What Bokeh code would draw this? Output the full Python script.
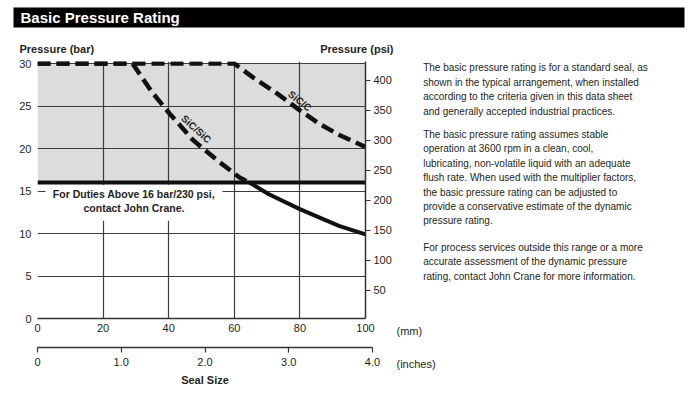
from bokeh.plotting import figure
from bokeh.models import FixedTicker, LinearAxis, Range1d, Label, BoxAnnotation
from bokeh.layouts import column, row
from bokeh.embed import file_html
from bokeh.resources import INLINE
from bokeh.core.properties import value
import numpy as np

# ---------------- data ----------------
mm_ticks = [0, 20, 40, 60, 80, 100]
inch_ticks = [0, 1, 2, 3, 4]
inch_labels = ["0", "1.0", "2.0", "3.0", "4.0"]
bar_ticks = [0, 5, 10, 15, 20, 25, 30]
psi_ticks = [50, 100, 150, 200, 250, 300, 350, 400]
grid_mm = [20, 40, 60, 80]
grid_bar = [5, 10, 15, 20, 25, 30]

rating_limit_bar = 16
rating_max_bar = 30

sic_c_mm = [0, 60, 66, 73, 80, 86, 92, 100]
sic_c_bar = [30, 30, 28.3, 26.5, 24.5, 22.9, 21.6, 20.2]

sic_sic_mm = [0, 29, 34.8, 40.3, 47.4, 55.5, 61.6, 64.6, 70.7, 79.8, 91.9, 100]
sic_sic_bar = [30, 30, 26.7, 24.1, 21.0, 18.4, 16.6, 16.0, 14.6, 12.9, 10.9, 9.9]

curve_names = ["SiC/C", "SiC/SiC"]
curve_label_mm = [80.0, 48.4]
curve_label_bar = [25.6, 22.3]
curve_label_angle = [-38, -42]

note_lines = ["For Duties Above 16 bar/230 psi,", "contact John Crane."]

para1 = ["The basic pressure rating is for a standard seal, as",
         "shown in the typical arrangement, when installed",
         "according to the criteria given in this data sheet",
         "and generally accepted industrial practices."]
para2 = ["The basic pressure rating assumes stable",
         "operation at 3600 rpm in a clean, cool,",
         "lubricating, non-volatile liquid with an adequate",
         "flush rate. When used with the multiplier factors,",
         "the basic pressure rating can be adjusted to",
         "provide a conservative estimate of the dynamic",
         "pressure rating."]
para3 = ["For process services outside this range or a more",
         "accurate assessment of the dynamic pressure",
         "rating, contact John Crane for more information."]

FONT = "Liberation Sans"
INK = "#231f20"
GRID = "#3c3c3c"
LINE = "#111111"


def blank(x0, x1, y0, y1):
    """A plain drawing area whose data coordinates are page pixels."""
    f = figure(width=x1 - x0, height=y1 - y0, x_range=Range1d(x0, x1), y_range=Range1d(y1, y0),
               output_backend="svg", toolbar_location=None, title=None,
               x_axis_location=None, y_axis_location=None,
               min_border_left=0, min_border_right=0, min_border_top=0, min_border_bottom=0)
    f.outline_line_color = None
    f.grid.visible = False
    if "frame_align" in f.properties():
        f.frame_align = False
    return f


# ---------------- header ----------------
hdr = blank(0, 697, 0, 57)
hdr.add_layout(BoxAnnotation(left=13, right=684, top=7, bottom=27, fill_color="black",
                             fill_alpha=1, line_color=None))
hdr.add_layout(Label(x=20, y=17, text="Basic Pressure Rating", text_font=FONT,
                     text_font_style="bold", text_font_size="15px", text_color="white",
                     text_baseline="middle"))
hdr.add_layout(Label(x=19, y=48, text="Pressure (bar)", text_font=FONT,
                     text_font_style="bold", text_font_size="11px", text_color=INK,
                     text_baseline="middle"))
hdr.add_layout(Label(x=393, y=48, text="Pressure (psi)", text_font=FONT,
                     text_font_style="bold", text_font_size="11px", text_color=INK,
                     text_baseline="middle", text_align="right"))

# ---------------- main chart ----------------
p = figure(width=394, height=283, x_range=Range1d(0, 100), y_range=Range1d(0, 30.25),
           output_backend="svg", toolbar_location=None, title=None,
           min_border_left=37, min_border_right=27, min_border_top=4, min_border_bottom=22)
p.outline_line_color = None
p.extra_y_ranges = {"psi": Range1d(3, 431)}

xa = p.xaxis[0]
xa.ticker = FixedTicker(ticks=mm_ticks)
ya = p.yaxis[0]
ya.ticker = FixedTicker(ticks=bar_ticks)
for ax in (xa, ya):
    ax.major_tick_in = 0
    ax.major_tick_out = 0
    ax.minor_tick_in = 0
    ax.minor_tick_out = 0
    ax.major_label_text_font = FONT
    ax.major_label_text_font_size = "11px"
    ax.major_label_text_color = INK
xa.axis_line_color = "#333333"
xa.axis_line_width = 1.5
xa.major_label_standoff = 5
ya.axis_line_color = None
ya.major_label_standoff = 6

psi_axis = LinearAxis(y_range_name="psi", ticker=FixedTicker(ticks=psi_ticks),
                      major_tick_out=5, major_tick_in=0, minor_tick_in=0, minor_tick_out=0,
                      axis_line_color="#333333", axis_line_width=1.5,
                      major_tick_line_color="#333333", major_tick_line_width=1.2,
                      major_label_standoff=3, major_label_text_font=FONT,
                      major_label_text_font_size="11px", major_label_text_color=INK)
p.add_layout(psi_axis, "right")

p.xgrid.ticker = FixedTicker(ticks=grid_mm)
p.ygrid.ticker = FixedTicker(ticks=grid_bar)
p.grid.grid_line_color = GRID
p.grid.grid_line_width = 1.2

# shaded region above the basic rating limit
p.hstrip(y0=[rating_limit_bar], y1=[rating_max_bar], fill_color="#dcdcdc",
         line_color=None, level="image")

# white box behind the note (covers grid lines only)
p.add_layout(BoxAnnotation(left=2.4, right=56.4, top=15.75, bottom=11.5,
                           fill_color="white", fill_alpha=1, line_color=None,
                           level="underlay"))

# limit line
p.hspan(y=[rating_limit_bar], line_width=4, line_color=LINE)

# curves
ss_x = np.array(sic_sic_mm)
ss_y = np.array(sic_sic_bar)
above = ss_y >= rating_limit_bar
below = ss_y <= rating_limit_bar
p.line(sic_c_mm, sic_c_bar, line_width=4.5, line_color=LINE, line_dash="13 6")
p.line(ss_x[above], ss_y[above], line_width=4.5, line_color=LINE, line_dash="13 6")
p.line(ss_x[below], ss_y[below], line_width=4, line_color=LINE)

p.text(x=curve_label_mm, y=curve_label_bar, text=curve_names, angle=curve_label_angle,
       angle_units="deg", text_font=value(FONT), text_font_style="bold",
       text_font_size="10px", text_align="center", text_baseline="middle",
       text_color=INK)

p.text(x=[29.4, 29.4], y=[14.68, 12.98], text=note_lines, text_font=value(FONT),
       text_font_style="bold", text_font_size="10.5px", text_align="center",
       text_baseline="middle", text_color=INK)

# ---------------- text column (page-pixel coordinates) ----------------
side = blank(394, 697, 57, 340)
line_step = 14.4
tx, ty, tt = [], [], []
for lines, y0 in ((para1, 67.3), (para2, 134.0), (para3, 246.7)):
    for i, s in enumerate(lines):
        tx.append(422.7)
        ty.append(y0 + i * line_step)
        tt.append(s)
side.text(x=tx, y=ty, text=tt, text_font=value(FONT), text_font_size="10px",
          text_baseline="middle", text_color=INK)
side.add_layout(Label(x=396, y=330, text="(mm)", text_font=FONT, text_font_size="11px",
                      text_color=INK, text_baseline="middle"))

# ---------------- inch axis ----------------
b = figure(width=394, height=59, x_range=Range1d(0, 4), y_range=Range1d(0, 1),
           output_backend="svg", toolbar_location=None, title=None, y_axis_location=None,
           min_border_left=37, min_border_right=22, min_border_top=0, min_border_bottom=52)
b.outline_line_color = None
b.grid.visible = False
ba = b.xaxis[0]
ba.ticker = FixedTicker(ticks=inch_ticks)
ba.major_label_overrides = {t: l for t, l in zip(inch_ticks, inch_labels)}
ba.major_tick_out = 5
ba.major_tick_in = 0
ba.minor_tick_in = 0
ba.minor_tick_out = 0
ba.axis_line_color = "#333333"
ba.axis_line_width = 1.5
ba.major_tick_line_color = "#333333"
ba.major_tick_line_width = 1.2
ba.major_label_standoff = 5
ba.major_label_text_font = FONT
ba.major_label_text_font_size = "11px"
ba.major_label_text_color = INK
ba.axis_label = "Seal Size"
ba.axis_label_text_font = FONT
ba.axis_label_text_font_style = "bold"
ba.axis_label_text_font_size = "11px"
ba.axis_label_text_color = INK
ba.axis_label_standoff = 5

bside = blank(394, 697, 340, 399)
bside.add_layout(Label(x=396, y=363, text="(inches)", text_font=FONT, text_font_size="11px",
                       text_color=INK, text_baseline="middle"))

layout = column(hdr, row(p, side, spacing=0), row(b, bside, spacing=0), spacing=0)
open("out.html", "w").write(file_html(layout, INLINE))
